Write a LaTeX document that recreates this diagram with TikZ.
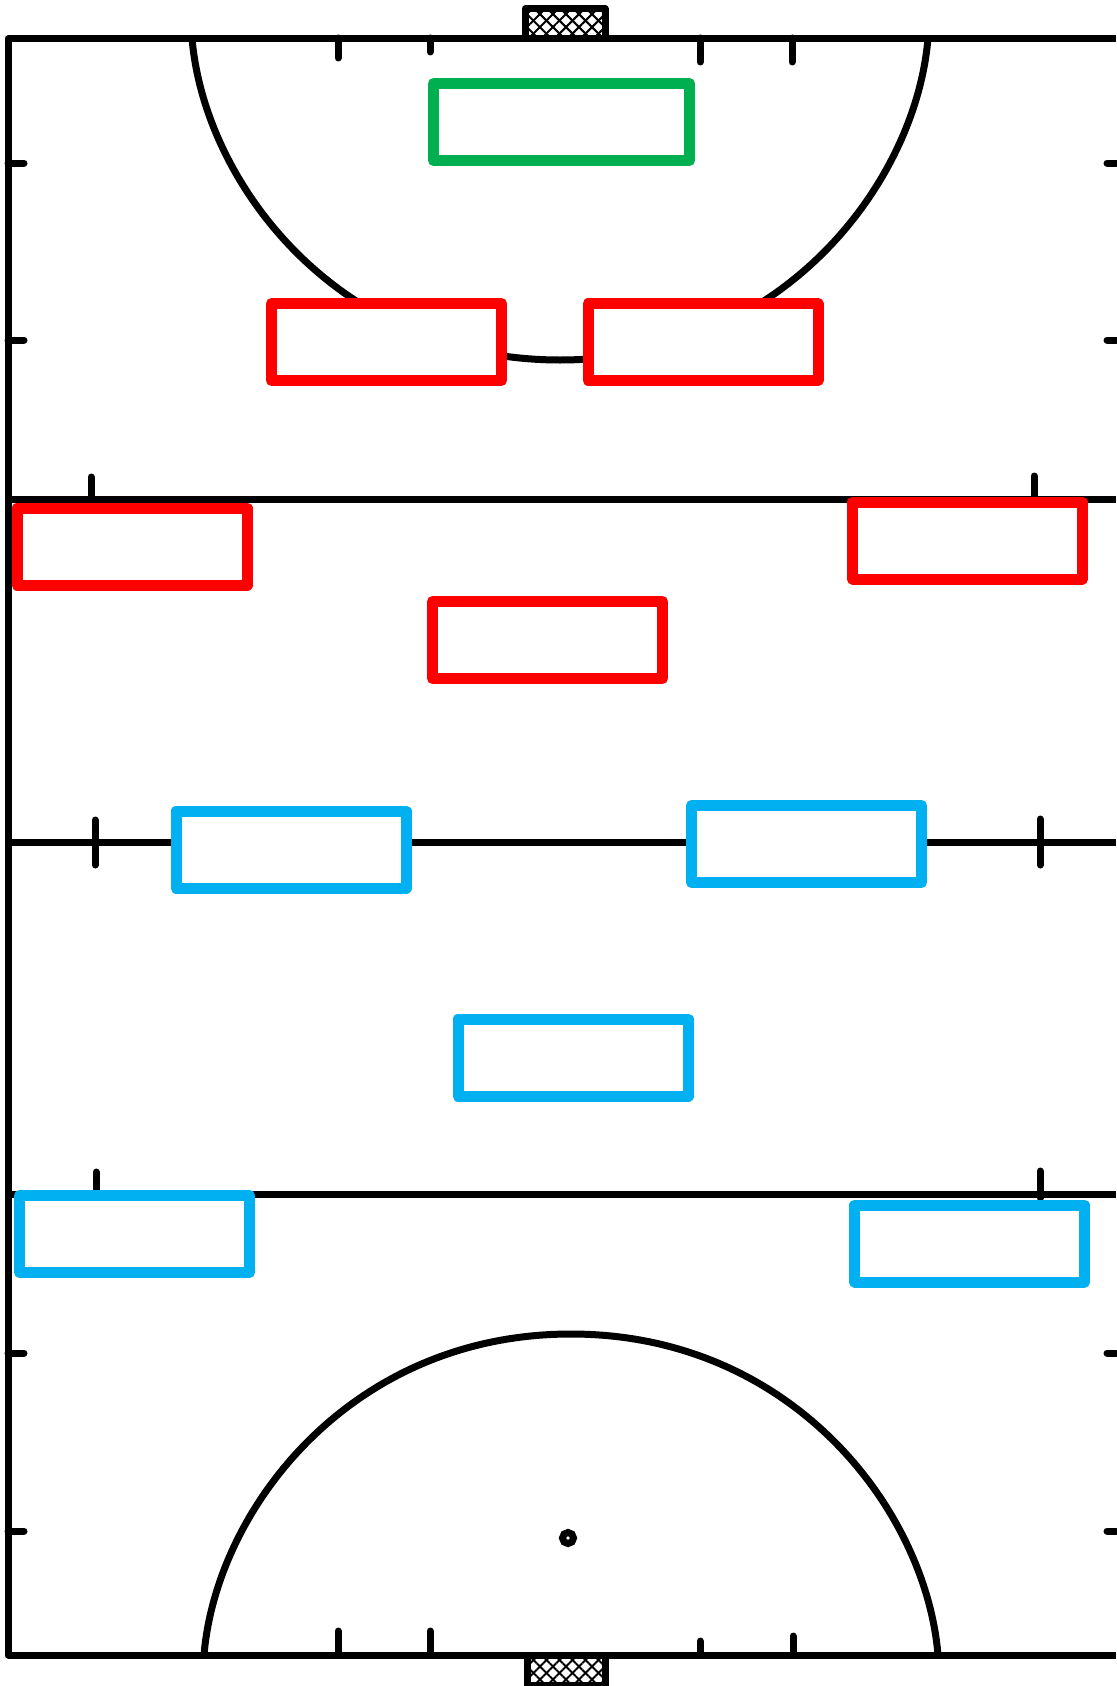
\documentclass[tikz,border=0pt]{standalone}
\usetikzlibrary{patterns.meta}
\definecolor{defred}{RGB}{255,0,0}
\definecolor{midblue}{RGB}{0,176,240}
\definecolor{keepgreen}{RGB}{0,176,80}
\tikzset{
	pitch/.style={line width=7pt, line join=round, black},
	tick/.style={line width=7pt, line cap=round, black},
	circleline/.style={line width=7pt, black},
	player/.style={draw, fill=white, line width=11pt, line join=round, inner sep=0pt, outer sep=0pt, minimum width=230pt, minimum height=77pt},
	goalnet/.style={draw=black, line width=7pt, line join=round, fill=white,
		postaction={pattern={Lines[angle=45,distance=9.2pt,line width=2pt]}},
		postaction={pattern={Lines[angle=-45,distance=9.2pt,line width=2pt]}}},
}
\begin{document}
\begin{tikzpicture}[x=1pt, y=-1pt]
	\useasboundingbox (0,0) rectangle (1116,1686);
	\fill[white] (0,0) rectangle (1116,1686);
	% goals
	\draw[goalnet] (525.5,38) -- (525.5,8.7) -- (605,8.7) -- (605,38);
	\draw[goalnet] (527,1655) -- (527,1685) -- (605.5,1685) -- (605.5,1655);
	% field lines
	\draw[pitch] (1116,38.5) -- (8,38.5) -- (8,1655) -- (1116,1655);
	\draw[pitch] (8,499.5) -- (1116,499.5)
	             (8,842) -- (1116,842)
	             (8,1194) -- (1116,1194);
	% circles
	\draw[circleline] (192,38) .. controls (204,183) and (338,360) .. (560,360)
	                           .. controls (782,360) and (916,183) .. (928,38);
	\draw[circleline] (204,1655) .. controls (216,1510) and (350,1334) .. (571,1334)
	                             .. controls (792,1334) and (926,1510) .. (938,1655);
	\draw[line width=7pt] (568,1538) circle[radius=5.5];
	% ticks
	\foreach \x/\y in {338/58,430/52,700/62,792/62}
		\draw[tick] (\x,38) -- (\x,\y);
	\foreach \x/\y in {338/1631,430/1631,700/1641,793/1636}
		\draw[tick] (\x,1655) -- (\x,\y);
	\foreach \y in {163,340,1353,1531} {
		\draw[tick] (8,\y) -- (24,\y);
		\draw[tick] (1107,\y) -- (1116,\y);
	}
	\draw[tick] (91,477) -- (91,499)
	            (1034,476) -- (1034,499)
	            (95,820) -- (95,865)
	            (1040,819) -- (1040,865)
	            (96,1172) -- (96,1194)
	            (1040,1171) -- (1040,1198);
	% players
	\node[player, draw=keepgreen, minimum width=256pt] (keeper) at (561.5,122) {};
	\node[player, draw=defred] (backA) at (386.5,342) {};
	\node[player, draw=defred] (backB) at (703,342) {};
	\node[player, draw=defred] (wingA) at (132,546.5) {};
	\node[player, draw=defred] (wingB) at (967.5,540.5) {};
	\node[player, draw=defred] (center) at (547.5,640) {};
	\node[player, draw=midblue] (midA) at (291,849.5) {};
	\node[player, draw=midblue] (midB) at (806.5,844) {};
	\node[player, draw=midblue] (midC) at (573,1057.5) {};
	\node[player, draw=midblue] (forwardA) at (134.5,1234) {};
	\node[player, draw=midblue] (forwardB) at (969.5,1243.5) {};
\end{tikzpicture}
\end{document}
